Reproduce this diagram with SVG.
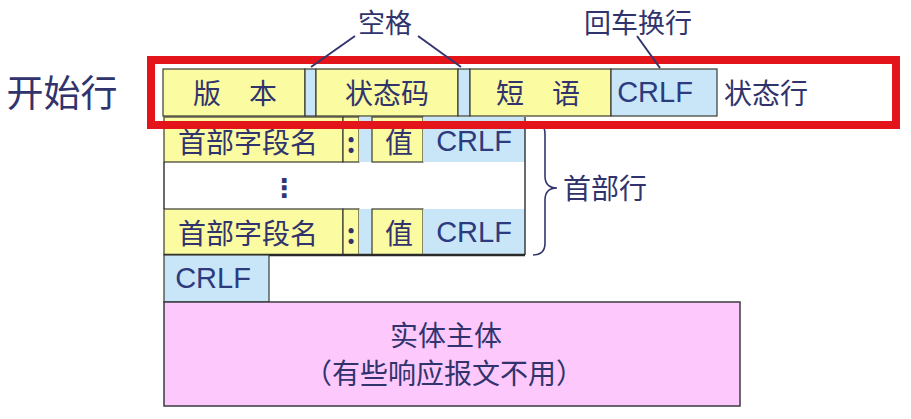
<svg xmlns="http://www.w3.org/2000/svg" width="911" height="419" viewBox="0 0 911 419">
<style>
.y{fill:#fbfba2;stroke:#3b3b30;stroke-width:1.2}
.b{fill:#c8e6f8;stroke:#3b3b30;stroke-width:1.2}
.bn{fill:#c8e6f8;stroke:none}
.p{fill:#fdc9fd;stroke:#3b3b40;stroke-width:1.5}
.ln{stroke:#3b3b40;stroke-width:1.5;fill:none}
.t{font-family:"Noto Sans CJK SC","Noto Sans",sans-serif;fill:#31346c;font-size:28px;text-anchor:middle;dominant-baseline:central}
.e{font-family:"Liberation Sans",Arial,sans-serif;fill:#2d3a7e;font-size:29px;text-anchor:middle;dominant-baseline:central}
.c{stroke:#33366e;stroke-width:2;fill:none}
</style>
<rect width="911" height="419" fill="#ffffff"/>

<g id="label-start">
<text class="t" x="62" y="91" style="font-size:37px">开始行</text>
</g>

<g id="status-line">
<rect class="y" x="163" y="69" width="142" height="47"/>
<text class="t" x="235" y="92">版　本</text>
<rect class="b" x="305" y="69" width="11" height="47"/>
<rect class="y" x="316" y="69" width="142" height="47"/>
<text class="t" x="387" y="92">状态码</text>
<rect class="b" x="458" y="69" width="12" height="47"/>
<rect class="y" x="470" y="69" width="141" height="47"/>
<text class="t" x="538" y="92">短　语</text>
<rect class="b" x="611" y="69" width="106" height="47"/>
<text class="e" x="655" y="92">CRLF</text>
<text class="t" x="766" y="92">状态行</text>
</g>

<g id="header-row-1">
<rect class="y" x="164" y="117" width="179" height="45"/>
<text class="t" x="248" y="141">首部字段名</text>
<rect class="y" x="343" y="117" width="16" height="45"/>
<text class="t" x="351" y="141" style="font-weight:bold">:</text>
<rect class="bn" x="359" y="117" width="13" height="45"/>
<rect class="y" x="372" y="117" width="51" height="45"/>
<text class="t" x="399" y="141">值</text>
<rect class="bn" x="423" y="117" width="102" height="45"/>
<text class="e" x="474" y="141">CRLF</text>
</g>

<g id="header-dots">
<line class="ln" x1="164" y1="162" x2="164" y2="209"/>
<line class="ln" x1="525" y1="117" x2="525" y2="209"/>
<text x="284" y="188" style="font-family:'DejaVu Sans',sans-serif;font-size:26px;fill:#33366e;text-anchor:middle;dominant-baseline:central;font-weight:bold">⋮</text>
</g>

<g id="header-row-2">
<rect class="y" x="164" y="209" width="179" height="46"/>
<text class="t" x="248" y="232">首部字段名</text>
<rect class="y" x="343" y="209" width="16" height="46"/>
<text class="t" x="351" y="232" style="font-weight:bold">:</text>
<rect class="bn" x="359" y="209" width="13" height="46"/>
<rect class="y" x="372" y="209" width="51" height="46"/>
<text class="t" x="399" y="232">值</text>
<rect class="bn" x="423" y="209" width="102" height="46"/>
<text class="e" x="474" y="232">CRLF</text>
<line class="ln" x1="525" y1="209" x2="525" y2="255"/>
<line x1="164" y1="255" x2="525" y2="255" stroke="#2a2a2a" stroke-width="2.5"/>
</g>

<g id="header-brace">
<path class="c" d="M533,122 Q545,122 545,134 L545,176 Q545,188 557,188 Q545,188 545,200 L545,243 Q545,255 533,255" style="stroke-width:1.6"/>
<text class="t" x="605" y="187">首部行</text>
</g>

<g id="blank-line">
<rect class="b" x="164" y="255" width="105" height="47"/>
<text class="e" x="213" y="278">CRLF</text>
</g>

<g id="entity-body">
<rect class="p" x="164" y="302" width="576" height="104"/>
<text class="t" x="446" y="334">实体主体</text>
<text class="t" x="444" y="372">（有些响应报文不用）</text>
</g>

<g id="highlight">
<rect x="151" y="60" width="745" height="65" fill="none" stroke="#e4141b" stroke-width="8"/>
</g>

<g id="label-space">
<text class="t" x="385" y="21" style="font-size:27px">空格</text>
</g>
<g id="label-crlf">
<text class="t" x="638" y="21" style="font-size:27px">回车换行</text>
</g>

<g id="connectors">
<line class="c" x1="355" y1="36" x2="311" y2="67"/>
<line class="c" x1="418" y1="36" x2="461" y2="67"/>
<line class="c" x1="637" y1="36" x2="660" y2="68"/>
</g>
</svg>
